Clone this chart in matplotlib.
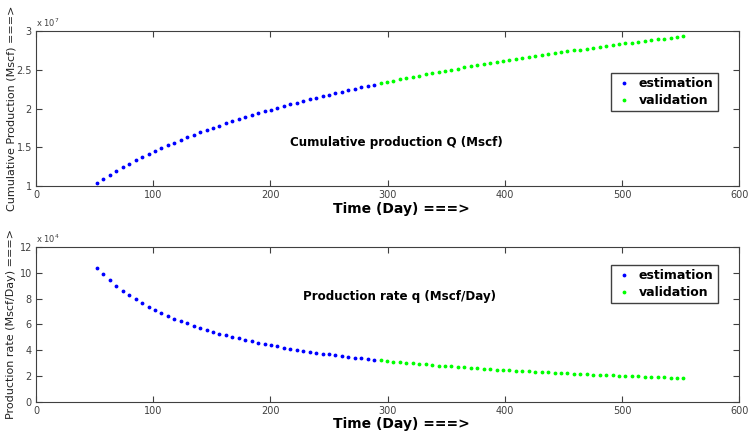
import numpy as np
import matplotlib
matplotlib.use('Agg')
import matplotlib.pyplot as plt
from matplotlib.ticker import FuncFormatter

# time (day)
days_est = [52, 57.5, 63, 68.5, 74, 79.5, 85, 90.5, 96, 101.5, 107, 112.5, 118, 123.5,
            129, 134.5, 140, 145.5, 151, 156.5, 162, 167.5, 173, 178.5, 184, 189.5,
            195, 200.5, 206, 211.5, 217, 222.5, 228, 233.5, 239, 244.5, 250, 255.5,
            261, 266.5, 272, 277.5, 283, 288.5]
days_val = [294, 299.5, 305, 310.5, 316, 321.5, 327, 332.5, 338, 343.5, 349, 354.5,
            360, 365.5, 371, 376.5, 382, 387.5, 393, 398.5, 404, 409.5, 415, 420.5,
            426, 431.5, 437, 442.5, 448, 453.5, 459, 464.5, 470, 475.5, 481, 486.5,
            492, 497.5, 503, 508.5, 514, 519.5, 525, 530.5, 536, 541.5, 547, 552.5]

# cumulative production Q (x 1e7 Mscf)
Q_est = [1.040, 1.094, 1.146, 1.195, 1.242, 1.287, 1.331, 1.373, 1.413, 1.452, 1.489,
         1.525, 1.561, 1.595, 1.628, 1.660, 1.691, 1.721, 1.751, 1.779, 1.807, 1.835,
         1.861, 1.887, 1.912, 1.937, 1.962, 1.985, 2.009, 2.031, 2.054, 2.076, 2.097,
         2.118, 2.139, 2.159, 2.179, 2.198, 2.217, 2.236, 2.255, 2.273, 2.291, 2.309]
Q_val = [2.326, 2.343, 2.360, 2.377, 2.393, 2.409, 2.425, 2.441, 2.456, 2.471, 2.486,
         2.501, 2.516, 2.530, 2.544, 2.558, 2.572, 2.586, 2.599, 2.613, 2.626, 2.639,
         2.652, 2.664, 2.677, 2.690, 2.702, 2.714, 2.726, 2.738, 2.750, 2.761, 2.773,
         2.784, 2.796, 2.807, 2.818, 2.829, 2.840, 2.851, 2.861, 2.872, 2.882, 2.893,
         2.903, 2.913, 2.923, 2.933]

# production rate q (x 1e4 Mscf/Day)
q_est = [10.37, 9.872, 9.420, 9.007, 8.629, 8.282, 7.961, 7.664, 7.389, 7.133, 6.893,
         6.670, 6.460, 6.263, 6.078, 5.904, 5.739, 5.583, 5.436, 5.295, 5.163, 5.036,
         4.916, 4.801, 4.691, 4.587, 4.487, 4.391, 4.299, 4.211, 4.126, 4.045, 3.967,
         3.892, 3.820, 3.750, 3.683, 3.618, 3.556, 3.495, 3.437, 3.380, 3.326, 3.273]
q_val = [3.221, 3.172, 3.123, 3.077, 3.031, 2.987, 2.945, 2.903, 2.863, 2.823, 2.785,
         2.748, 2.712, 2.676, 2.642, 2.608, 2.576, 2.544, 2.513, 2.482, 2.453, 2.424,
         2.396, 2.368, 2.341, 2.315, 2.289, 2.264, 2.239, 2.215, 2.191, 2.168, 2.146,
         2.123, 2.102, 2.080, 2.060, 2.039, 2.019, 2.000, 1.980, 1.961, 1.943, 1.925,
         1.907, 1.889, 1.872, 1.855]

plt.rcParams['font.family'] = 'DejaVu Sans'
tick_col = '#404040'

fig = plt.figure(figsize=(7.52, 4.33), dpi=100)
ax1 = fig.add_axes([0.0479, 0.5704, 0.935, 0.358])
ax2 = fig.add_axes([0.0479, 0.0716, 0.935, 0.358])


def style(ax, scale, exp_txt):
    ax.set_xlim(0, 600)
    ax.set_xticks(np.arange(0, 601, 100))
    ax.tick_params(direction='in', top=True, right=True, length=4, width=0.8,
                   labelsize=7, colors=tick_col, pad=3)
    for s in ax.spines.values():
        s.set_color(tick_col)
        s.set_linewidth(0.8)
    ax.yaxis.set_major_formatter(FuncFormatter(lambda v, p: '%g' % (v / scale)))
    ax.text(0.0, 1.015, exp_txt, transform=ax.transAxes, fontsize=6,
            color=tick_col, ha='left', va='bottom')


ms = 3.5
bold = dict(fontweight='bold', color='black')
leg_kw = dict(loc='upper right', fancybox=False, edgecolor=tick_col, framealpha=1,
              prop=dict(weight='bold', size=9), handlelength=1.4, handletextpad=0.5,
              borderpad=0.35, labelspacing=0.3, borderaxespad=0)

# cumulative production
ax1.plot(days_est, np.array(Q_est) * 1e7, '.', color='#0000ff', ms=ms, label='estimation')
ax1.plot(days_val, np.array(Q_val) * 1e7, '.', color='#00ff00', ms=ms, label='validation')
ax1.set_ylim(1e7, 3e7)
ax1.set_yticks(np.array([1, 1.5, 2, 2.5, 3]) * 1e7)
style(ax1, 1e7, r'x 10$^7$')
ax1.set_xlabel('Time (Day) ===>', fontsize=10, **bold)
ax1.xaxis.set_label_coords(0.52, -0.1)
ax1.set_ylabel('Cumulative Production (Mscf) ===>', fontsize=8, color='#202020')
ax1.yaxis.set_label_coords(-0.028, 0.5)
ax1.text(217, 1.56e7, 'Cumulative production Q (Mscf)', fontsize=8.6, va='center', **bold)
ax1.legend(bbox_to_anchor=(0.97, 0.73), **leg_kw)

# production rate
ax2.plot(days_est, np.array(q_est) * 1e4, '.', color='#0000ff', ms=ms, label='estimation')
ax2.plot(days_val, np.array(q_val) * 1e4, '.', color='#00ff00', ms=ms, label='validation')
ax2.set_ylim(0, 12e4)
ax2.set_yticks(np.arange(0, 13, 2) * 1e4)
style(ax2, 1e4, r'x 10$^4$')
ax2.set_xlabel('Time (Day) ===>', fontsize=10, **bold)
ax2.xaxis.set_label_coords(0.52, -0.095)
ax2.set_ylabel('Production rate (Mscf/Day) ===>', fontsize=8, color='#202020')
ax2.yaxis.set_label_coords(-0.028, 0.5)
ax2.text(228, 8.13e4, 'Production rate q (Mscf/Day)', fontsize=8.6, va='center', **bold)
ax2.legend(bbox_to_anchor=(0.97, 0.885), **leg_kw)

fig.savefig('out.png', dpi=100)
